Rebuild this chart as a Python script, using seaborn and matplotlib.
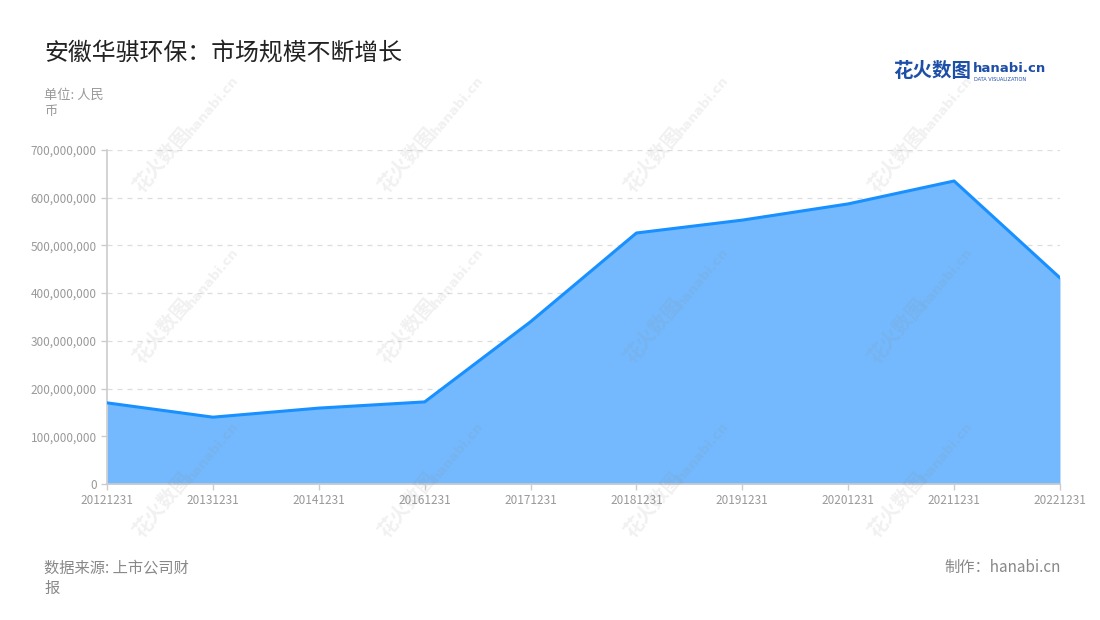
import matplotlib
matplotlib.use("Agg")
import matplotlib.pyplot as plt
import matplotlib.ticker as mticker
import numpy as np
import pandas as pd
import seaborn as sns

# data
periods = ["20121231", "20131231", "20141231", "20161231", "20171231",
           "20181231", "20191231", "20201231", "20211231", "20221231"]
revenue = [170e6, 140e6, 159e6, 172e6, 340e6,
           526e6, 553e6, 587e6, 635e6, 432e6]
y_ticks = [0, 100e6, 200e6, 300e6, 400e6, 500e6, 600e6, 700e6]

title = "安徽华骐环保：市场规模不断增长"
unit = "单位: 人民\n币"
source = "数据来源: 上市公司财\n报"
maker = "制作：hanabi.cn"

LINE = "#1890FF"
FILL = "#74B9FD"
GREY = "#999999"

sns.set_theme(style="white")
plt.rcParams["font.family"] = ["Noto Sans CJK SC", "DejaVu Sans"]

df = pd.DataFrame({"period": periods, "revenue": revenue})
x = np.arange(len(df))

fig = plt.figure(figsize=(11, 6.2), dpi=100)
ax = fig.add_axes([0.0973, 0.2194, 0.8663, 0.5387])

ax.fill_between(x, df["revenue"], 0, color=FILL, linewidth=0, zorder=2)
sns.lineplot(data=df, x="period", y="revenue", ax=ax, color=LINE,
             linewidth=2.2, zorder=3)

ax.set_xlim(0, len(df) - 1)
ax.set_ylim(0, 700e6)
ax.set_yticks(y_ticks)
ax.yaxis.set_major_formatter(mticker.FuncFormatter(lambda v, p: f"{v:,.0f}"))
ax.set_xticks(x)
ax.set_xticklabels(periods)
ax.set_xlabel("")
ax.set_ylabel("")

ax.grid(axis="y", linestyle=(0, (4, 4)), color="#dddddd", linewidth=0.9)
ax.set_axisbelow(True)
for side in ["top", "right"]:
    ax.spines[side].set_visible(False)
for side in ["left", "bottom"]:
    ax.spines[side].set_color("#cccccc")
    ax.spines[side].set_linewidth(1.2)
ax.tick_params(axis="both", colors="#cccccc", labelcolor=GREY, labelsize=8.5,
               length=4, width=1, direction="out", left=True, bottom=True)

# faint watermarks
for wx in [0.148, 0.371, 0.594, 0.816]:
    for wy in [0.742, 0.465, 0.185]:
        fig.text(wx, wy, "花火数图", rotation=50, fontsize=14,
                 color="#888888", alpha=0.12, ha="center", va="center",
                 fontweight="bold")
        fig.text(wx + 0.045, wy + 0.087, "hanabi.cn", rotation=50,
                 fontsize=9.5, color="#888888", alpha=0.12, ha="center",
                 va="center", fontweight="bold", family="DejaVu Sans")

fig.text(0.040, 0.913, title, fontsize=17.2, color="#222222", va="center")
fig.text(0.040, 0.857, unit, fontsize=9.5, color=GREY, va="top",
         linespacing=1.3)
fig.text(0.040, 0.098, source, fontsize=11, color="#888888", va="top",
         linespacing=1.3)
fig.text(0.964, 0.085, maker, fontsize=11, color="#888888", va="center",
         ha="right")

# logo
fig.text(0.812, 0.884, "花火数图", fontsize=14, color="#1d4fa8",
         va="center", fontweight="bold")
fig.text(0.884, 0.890, "hanabi.cn", fontsize=9.5, color="#1d4fa8",
         va="center", fontweight="bold", family="DejaVu Sans")
fig.text(0.885, 0.872, "DATA VISUALIZATION", fontsize=3.6, color="#1d4fa8",
         va="center", family="DejaVu Sans")

fig.savefig("out.png", dpi=100)
